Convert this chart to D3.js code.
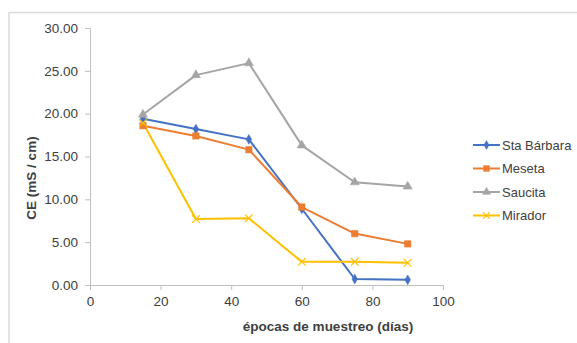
<!DOCTYPE html>
<html>
<head>
<meta charset="utf-8">
<script src="https://cdn.jsdelivr.net/npm/d3@7"></script>
<style>
  html, body { margin: 0; padding: 0; background: #fff; }
  svg text { font-family: "Liberation Sans", Arial, sans-serif; fill: #404040; }
</style>
</head>
<body>
<svg id="chart" width="577" height="343"></svg>
<script>
// Sampling days
const days = [15, 30, 45, 60, 75, 90];

// Electrical conductivity (mS/cm) per site
const staBarbara = [19.4, 18.2, 17.0, 8.9, 0.7, 0.6];
const meseta     = [18.6, 17.4, 15.8, 9.1, 6.0, 4.8];
const saucita    = [19.9, 24.5, 25.9, 16.3, 12.0, 11.5];
const mirador    = [18.9, 7.7, 7.8, 2.7, 2.7, 2.6];

const seriesNames = ["Sta Bárbara", "Meseta", "Saucita", "Mirador"];
const xTicks = [0, 20, 40, 60, 80, 100];
const yTicks = [0, 5, 10, 15, 20, 25, 30];

const colors = ["#4472C4", "#ED7D31", "#A5A5A5", "#FFC000"];
const symbols = [d3.symbolDiamond, d3.symbolSquare, d3.symbolTriangle, d3.symbolX];
const symSizes = [28, 42, 36, 40];

const series = [staBarbara, meseta, saucita, mirador].map((vals, i) => ({
  name: seriesNames[i],
  points: days.map((d, j) => ({ x: d, y: vals[j] }))
}));

const svg = d3.select("#chart");

// Outer frame (top and left edges only)
svg.append("line").attr("x1", 9).attr("x2", 577).attr("y1", 12.5).attr("y2", 12.5)
  .attr("stroke", "#d9d9d9").attr("stroke-width", 1.5);
svg.append("line").attr("x1", 9).attr("x2", 9).attr("y1", 12).attr("y2", 343)
  .attr("stroke", "#d9d9d9").attr("stroke-width", 1.5);

const x = d3.scaleLinear().domain([0, 100]).range([90, 443]);
const y = d3.scaleLinear().domain([0, 30]).range([285, 28]);

// Axes
const xAxis = svg.append("g").attr("transform", `translate(0,${y(0)})`)
  .call(d3.axisBottom(x).tickValues(xTicks).tickSize(5).tickSizeOuter(0).tickPadding(6).tickFormat(d3.format("d")));
const yAxis = svg.append("g").attr("transform", `translate(${x(0)},0)`)
  .call(d3.axisLeft(y).tickValues(yTicks).tickSize(5).tickSizeOuter(0).tickPadding(7).tickFormat(d3.format(".2f")));

[xAxis, yAxis].forEach(a => {
  a.select(".domain").attr("stroke", "#bfbfbf").attr("stroke-width", 1);
  a.selectAll(".tick line").attr("stroke", "#bfbfbf");
  a.selectAll(".tick text").attr("font-size", 13.5).attr("fill", "#404040")
    .attr("font-family", "'Liberation Sans', Arial, sans-serif");
});

// Axis titles
svg.append("text")
  .attr("x", 328).attr("y", 331)
  .attr("text-anchor", "middle")
  .attr("font-size", 13.5).attr("font-weight", "bold")
  .attr("fill", "#262626")
  .text("épocas de muestreo (días)");

svg.append("text")
  .attr("transform", "translate(36,178) rotate(-90)")
  .attr("text-anchor", "middle")
  .attr("font-size", 13.5).attr("font-weight", "bold")
  .attr("fill", "#262626")
  .text("CE (mS / cm)");

// Lines and markers
const line = d3.line().x(d => x(d.x)).y(d => y(d.y));

series.forEach((s, i) => {
  svg.append("path")
    .datum(s.points)
    .attr("fill", "none")
    .attr("stroke", colors[i])
    .attr("stroke-width", 2)
    .attr("stroke-linejoin", "round")
    .attr("d", line);
});

series.forEach((s, i) => {
  const sym = d3.symbol().type(symbols[i]).size(symSizes[i]);
  svg.append("g").selectAll("path")
    .data(s.points)
    .join("path")
    .attr("transform", d => `translate(${x(d.x)},${y(d.y)})`)
    .attr("d", sym)
    .attr("fill", symbols[i] === d3.symbolX ? "none" : colors[i])
    .attr("stroke", colors[i])
    .attr("stroke-width", symbols[i] === d3.symbolX ? 1.2 : 0.5);
});

// Legend
const legend = svg.append("g");
seriesNames.forEach((name, i) => {
  const ly = 145 + i * 23.5;
  const g = legend.append("g").attr("transform", `translate(473,${ly})`);
  g.append("line").attr("x1", 0).attr("x2", 27).attr("y1", 0).attr("y2", 0)
    .attr("stroke", colors[i]).attr("stroke-width", 2);
  g.append("path")
    .attr("transform", "translate(13.5,0)")
    .attr("d", d3.symbol().type(symbols[i]).size(symSizes[i] * 0.8))
    .attr("fill", symbols[i] === d3.symbolX ? "none" : colors[i])
    .attr("stroke", colors[i])
    .attr("stroke-width", symbols[i] === d3.symbolX ? 1.2 : 0.5);
  g.append("text").attr("x", 29).attr("y", 0).attr("dy", "0.35em")
    .attr("font-size", 13).text(name);
});
</script>
</body>
</html>
